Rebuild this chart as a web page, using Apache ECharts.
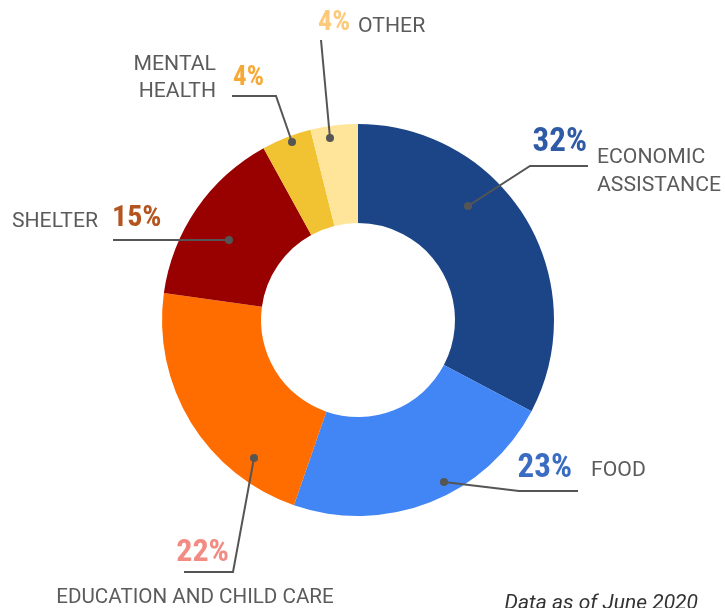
<!DOCTYPE html>
<html>
<head>
<meta charset="utf-8">
<script src="https://cdn.jsdelivr.net/npm/echarts@6/dist/echarts.min.js"></script>
<style>
  html, body { margin: 0; padding: 0; background: #fff; }
  #main { width: 725px; height: 608px; }
</style>
</head>
<body>
<div id="main"></div>
<script>
"use strict";
// share of spending by category, June 2020
let categories = ['ECONOMIC ASSISTANCE', 'FOOD', 'EDUCATION AND CHILD CARE', 'SHELTER', 'MENTAL HEALTH', 'OTHER'];
// slice sizes as drawn, and the figures printed next to them
let shares = [32.7, 22.6, 21.9, 14.8, 4.1, 3.9];
let shareLabels = ['32%', '23%', '22%', '15%', '4%', '4%'];

let sliceColors = ['#1c4587', '#4285f4', '#ff6d01', '#990000', '#f1c232', '#ffe599'];
let pctColors = ['#2e5aa6', '#3a6cc2', '#f28b82', '#b4541f', '#f7a935', '#fdc97b'];
let pctSizes = [33, 33, 32, 30, 27, 28];

let PCT_FONT = '"Roboto Condensed", Roboto, sans-serif';
let NAME_FONT = 'Roboto, "Noto Sans", sans-serif';
let GREY = '#5b5b5b';
let LINE = '#555';

// where each percentage sits and how its leader line runs (dot first)
let spots = [
    { x: 587, y: 143, align: 'right', line: [[468, 206], [530, 166], [588, 166]] },
    { x: 572, y: 469, align: 'right', line: [[444, 482], [519, 491], [578, 491]] },
    { x: 229, y: 553, align: 'right', line: [[254, 458], [233, 572], [184, 572]] },
    { x: 112, y: 218, align: 'left',  line: [[229, 240], [113, 240]] },
    { x: 233, y: 78,  align: 'left',  line: [[292, 142], [276, 96], [232, 96]] },
    { x: 350, y: 23,  align: 'right', line: [[330, 138], [321, 40]] }
];

// the category names, placed around the ring
let names = [
    { text: 'ECONOMIC', x: 597, y: 158, align: 'left' },
    { text: 'ASSISTANCE', x: 597, y: 186, align: 'left' },
    { text: 'FOOD', x: 591, y: 471, align: 'left' },
    { text: 'EDUCATION AND CHILD CARE', x: 195, y: 598, align: 'center' },
    { text: 'SHELTER', x: 98, y: 222, align: 'right' },
    { text: 'MENTAL', x: 216, y: 65, align: 'right' },
    { text: 'HEALTH', x: 216, y: 92, align: 'right' },
    { text: 'OTHER', x: 358, y: 27, align: 'left' }
];

let myChart = echarts.init(document.getElementById('main'));

let pieData = [];
for (let i = 0; i < shares.length; i++) {
    pieData.push({
        name: categories[i],
        value: shares[i],
        itemStyle: { color: sliceColors[i] },
        label: { color: pctColors[i], fontSize: pctSizes[i] }
    });
}

let graphics = [];
for (let i = 0; i < names.length; i++) {
    graphics.push({
        type: 'text',
        z: 20,
        x: names[i].x,
        y: names[i].y,
        scaleX: names[i].text.length > 12 ? 1.03 : 1.06,
        style: {
            text: names[i].text,
            x: 0,
            y: 0,
            align: names[i].align,
            verticalAlign: 'middle',
            font: '20px ' + NAME_FONT,
            fill: GREY
        }
    });
}
// leader lines with their dots, drawn above the ring
for (let i = 0; i < spots.length; i++) {
    graphics.push({
        type: 'polyline',
        z: 20,
        shape: { points: spots[i].line },
        style: { stroke: LINE, lineWidth: 2, fill: null }
    });
    graphics.push({
        type: 'circle',
        z: 21,
        shape: { cx: spots[i].line[0][0], cy: spots[i].line[0][1], r: 4 },
        style: { fill: LINE }
    });
}
graphics.push({
    type: 'text',
    z: 20,
    style: {
        text: 'Data as of June 2020',
        x: 698,
        y: 604,
        align: 'right',
        verticalAlign: 'middle',
        font: 'italic 21px ' + NAME_FONT,
        fill: '#333'
    }
});

let option = {
    backgroundColor: '#fff',
    animation: false,
    graphic: graphics,
    series: [{
        type: 'pie',
        center: [358, 320],
        radius: [97, 196],
        startAngle: 90,
        clockwise: true,
        avoidLabelOverlap: false,
        emphasis: { disabled: true },
        label: {
            show: true,
            position: 'outside',
            formatter: function (p) { return shareLabels[p.dataIndex]; },
            fontFamily: PCT_FONT,
            fontWeight: 'bold'
        },
        labelLine: { show: false },
        labelLayout: function (params) {
            let s = spots[params.dataIndex];
            return {
                x: s.x,
                y: s.y,
                align: s.align,
                verticalAlign: 'middle'
            };
        },
        data: pieData
    }]
};
myChart.setOption(option);
</script>
</body>
</html>
